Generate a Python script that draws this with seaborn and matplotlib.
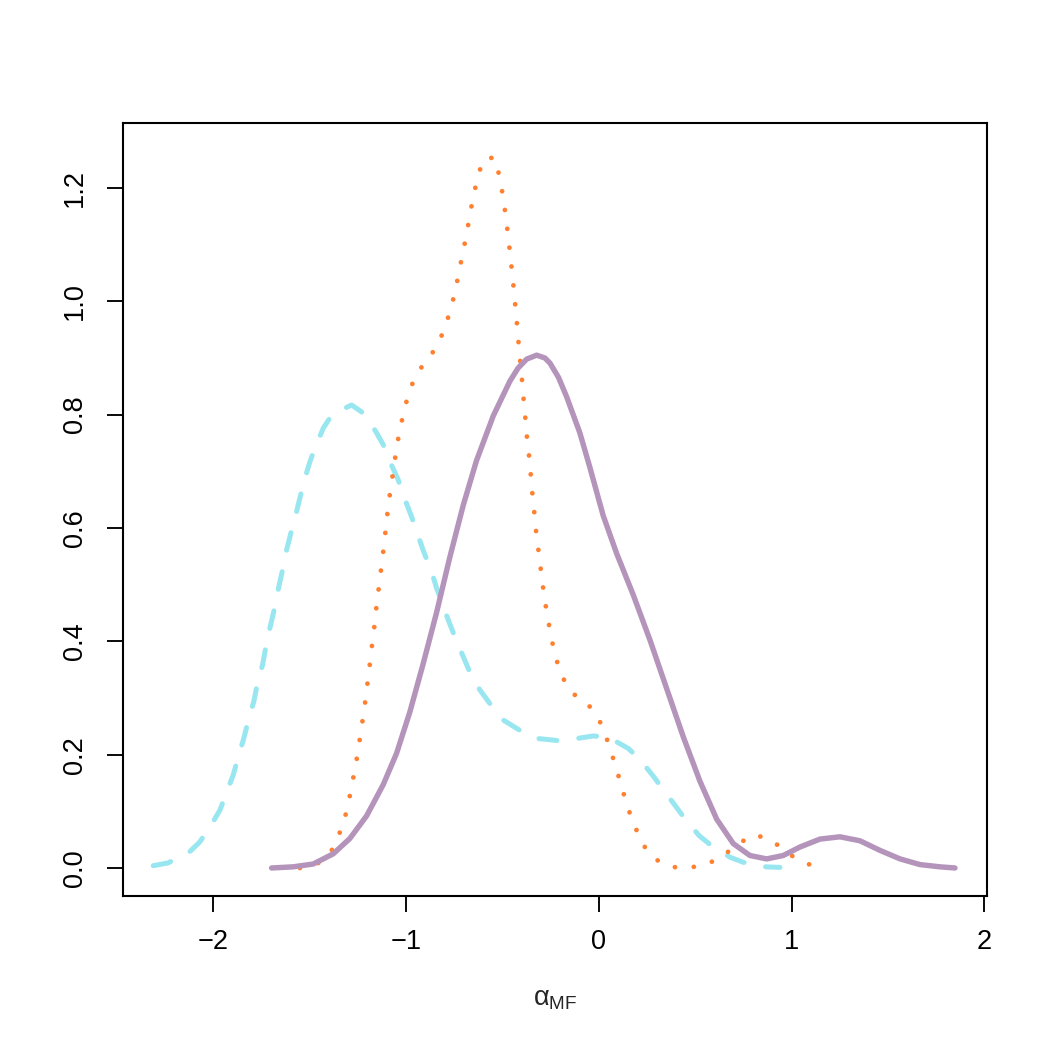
import matplotlib
matplotlib.use("Agg")
import matplotlib.pyplot as plt
import seaborn as sns
import pandas as pd

# Purple solid density
purple_x = [-1.698, -1.586, -1.482, -1.378, -1.292, -1.205, -1.119, -1.050, -0.981, -0.912,
            -0.842, -0.773, -0.704, -0.635, -0.548, -0.462, -0.420, -0.375, -0.323, -0.280,
            -0.254, -0.210, -0.168, -0.099, -0.047, 0.022, 0.092, 0.178, 0.265, 0.351,
            0.437, 0.524, 0.611, 0.697, 0.783, 0.870, 0.956, 1.043, 1.147, 1.250,
            1.354, 1.458, 1.562, 1.665, 1.769, 1.847]
purple_y = [0.000, 0.002, 0.007, 0.025, 0.052, 0.092, 0.147, 0.202, 0.275, 0.360,
            0.451, 0.549, 0.640, 0.719, 0.798, 0.859, 0.882, 0.898, 0.905, 0.900,
            0.891, 0.866, 0.832, 0.768, 0.707, 0.622, 0.555, 0.482, 0.402, 0.317,
            0.232, 0.153, 0.086, 0.043, 0.022, 0.016, 0.022, 0.037, 0.051, 0.055,
            0.048, 0.031, 0.016, 0.006, 0.002, 0.000]

# Orange dotted density
orange_x = [-1.551, -1.453, -1.385, -1.345, -1.314, -1.293, -1.275, -1.257, -1.242, -1.228,
            -1.214, -1.202, -1.190, -1.179, -1.167, -1.157, -1.145, -1.133, -1.121, -1.110,
            -1.100, -1.088, -1.074, -1.060, -1.046, -1.027, -1.006, -0.979, -0.939, -0.878,
            -0.827, -0.792, -0.764, -0.742, -0.723, -0.704, -0.685, -0.669, -0.650, -0.629,
            -0.600, -0.541, -0.517, -0.500, -0.486, -0.474, -0.463, -0.453, -0.443, -0.434,
            -0.425, -0.417, -0.408, -0.399, -0.391, -0.382, -0.374, -0.363, -0.354, -0.346,
            -0.336, -0.327, -0.315, -0.303, -0.291, -0.277, -0.261, -0.244, -0.221, -0.190,
            -0.140, -0.059, -0.002, 0.036, 0.066, 0.095, 0.123, 0.150, 0.185, 0.223,
            0.280, 0.365, 0.462, 0.557, 0.642, 0.720, 0.803, 0.892, 0.968, 1.048, 1.140]
orange_y = [0.000, 0.009, 0.032, 0.062, 0.094, 0.126, 0.158, 0.191, 0.224, 0.256,
            0.289, 0.322, 0.355, 0.388, 0.420, 0.453, 0.486, 0.519, 0.552, 0.585,
            0.618, 0.651, 0.684, 0.717, 0.749, 0.782, 0.814, 0.846, 0.876, 0.901,
            0.930, 0.961, 0.992, 1.024, 1.057, 1.089, 1.121, 1.154, 1.187, 1.219,
            1.251, 1.254, 1.222, 1.190, 1.157, 1.124, 1.091, 1.059, 1.026, 0.993,
            0.960, 0.927, 0.893, 0.861, 0.828, 0.795, 0.762, 0.729, 0.696, 0.663,
            0.630, 0.597, 0.564, 0.531, 0.498, 0.465, 0.433, 0.401, 0.368, 0.337,
            0.309, 0.290, 0.264, 0.233, 0.202, 0.170, 0.137, 0.106, 0.075, 0.044,
            0.018, 0.002, 0.000, 0.006, 0.021, 0.042, 0.059, 0.050, 0.029, 0.011, 0.001]

# Cyan dashed density
cyan_x = [-2.312, -2.234, -2.122, -2.070, -2.004, -1.966, -1.923, -1.897, -1.866, -1.842,
          -1.814, -1.790, -1.768, -1.745, -1.724, -1.707, -1.681, -1.664, -1.641, -1.624,
          -1.598, -1.577, -1.551, -1.525, -1.499, -1.473, -1.430, -1.383, -1.283, -1.223,
          -1.157, -1.119, -1.076, -1.041, -1.006, -0.972, -0.912, -0.868, -0.842, -0.782,
          -0.738, -0.704, -0.660, -0.617, -0.548, -0.496, -0.401, -0.332, -0.219, -0.142,
          -0.030, 0.048, 0.152, 0.209, 0.282, 0.330, 0.400, 0.446, 0.520, 0.585,
          0.680, 0.749, 0.866, 0.939]
cyan_y = [0.004, 0.009, 0.029, 0.046, 0.080, 0.102, 0.141, 0.164, 0.202, 0.229,
          0.267, 0.294, 0.332, 0.358, 0.397, 0.423, 0.461, 0.491, 0.526, 0.556,
          0.591, 0.617, 0.653, 0.688, 0.717, 0.741, 0.776, 0.801, 0.817, 0.803,
          0.770, 0.747, 0.711, 0.685, 0.650, 0.620, 0.561, 0.523, 0.494, 0.438,
          0.400, 0.373, 0.338, 0.314, 0.282, 0.261, 0.241, 0.229, 0.225, 0.227,
          0.233, 0.231, 0.211, 0.193, 0.162, 0.140, 0.108, 0.087, 0.057, 0.039,
          0.019, 0.010, 0.002, 0.001]

x_ticks = [-2, -1, 0, 1, 2]
y_ticks = [0.0, 0.2, 0.4, 0.6, 0.8, 1.0, 1.2]
x_label = r"$\mathregular{\alpha_{MF}}$"

sns.set_style("white")
plt.rcParams["font.family"] = ["Liberation Sans", "DejaVu Sans"]
plt.rcParams["mathtext.fontset"] = "custom"
plt.rcParams["mathtext.rm"] = "Liberation Sans"
plt.rcParams["mathtext.it"] = "Liberation Sans:italic"

fig = plt.figure(figsize=(7, 7), dpi=150)
ax = fig.add_axes([0.117, 0.1467, 0.823, 0.7363])

df_c = pd.DataFrame({"x": cyan_x, "y": cyan_y})
df_o = pd.DataFrame({"x": orange_x, "y": orange_y})
df_p = pd.DataFrame({"x": purple_x, "y": purple_y})

sns.lineplot(data=df_c, x="x", y="y", ax=ax, color="#98E6F0", lw=2.4, sort=False)
ln_c = ax.lines[-1]
ln_c.set_linestyle((0, (3.6, 4.4)))
ln_c.set_dash_capstyle("round")
ln_c.set_solid_joinstyle("round")

sns.lineplot(data=df_o, x="x", y="y", ax=ax, color="#FF8030", lw=2.3, sort=False)
ln_o = ax.lines[-1]
ln_o.set_linestyle((0, (0.01, 3.95)))
ln_o.set_dash_capstyle("round")

sns.lineplot(data=df_p, x="x", y="y", ax=ax, color="#B594BB", lw=2.6, sort=False)
ln_p = ax.lines[-1]
ln_p.set_solid_capstyle("round")
ln_p.set_solid_joinstyle("round")

ax.set_xlim(-2.4695, 2.013)
ax.set_ylim(-0.0494, 1.315)
ax.set_xticks(x_ticks)
ax.set_xticklabels([str(t).replace("-", "\u2212") for t in x_ticks])
ax.set_yticks(y_ticks)
ax.set_yticklabels([f"{t:.1f}" for t in y_ticks], rotation=90, va="center")
ax.tick_params(axis="both", direction="out", length=7.7, width=0.9, color="black",
               labelsize=13, labelcolor="black", bottom=True, left=True)
ax.tick_params(axis="x", pad=8)
ax.tick_params(axis="y", pad=9)
ax.set_xlabel(x_label, fontsize=13, labelpad=15)
ax.set_ylabel("")
for s in ax.spines.values():
    s.set_visible(True)
    s.set_color("black")
    s.set_linewidth(1.0)

fig.savefig("out.png", dpi=150, facecolor="white")
